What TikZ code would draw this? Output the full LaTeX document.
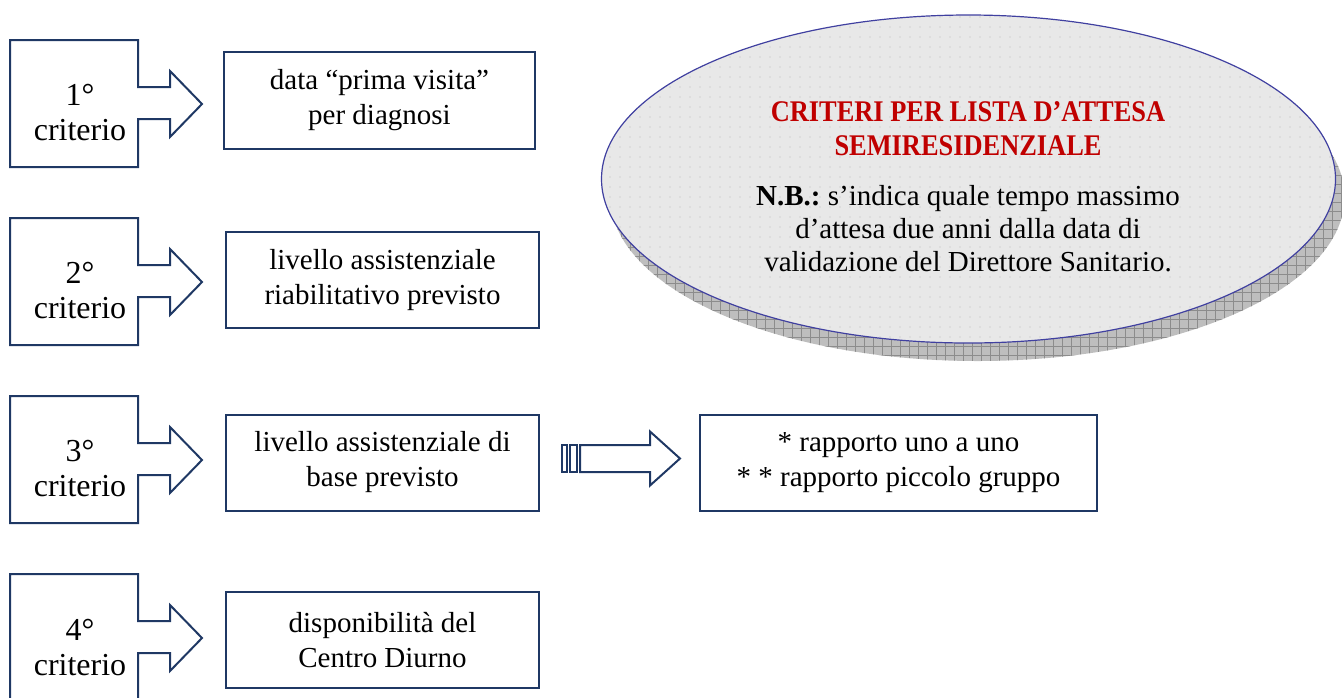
\documentclass[tikz,border=0pt]{standalone}
\usepackage{fontspec}
\setmainfont{Liberation Serif}
\newfontfamily\titlefont[FakeStretch=0.88]{Liberation Serif}
\usepackage{tikz}
\usetikzlibrary{positioning,calc,shapes.geometric,patterns}
\definecolor{navyline}{RGB}{31,56,100}
\definecolor{ellipseedge}{RGB}{64,64,160}
\definecolor{titlered}{RGB}{192,0,0}
\definecolor{bubblegray}{RGB}{232,232,232}
\definecolor{dotgray}{RGB}{185,185,185}
\definecolor{shadowgray}{RGB}{190,190,190}
\definecolor{gridgray}{RGB}{140,140,140}
\frenchspacing

\pgfdeclarepatternformonly{bubbledots}{\pgfqpoint{-0.5pt}{-0.5pt}}{\pgfqpoint{0.5pt}{0.5pt}}{\pgfqpoint{5pt}{5pt}}{\pgfpathcircle{\pgfqpoint{0pt}{0pt}}{0.3pt}\pgfusepath{fill}}
\pgfdeclarepatternformonly{shadowgrid}{\pgfqpoint{-1pt}{-1pt}}{\pgfqpoint{5pt}{5pt}}{\pgfqpoint{4.5pt}{4.5pt}}{\pgfsetlinewidth{0.4pt}\pgfpathmoveto{\pgfqpoint{0pt}{0pt}}\pgfpathlineto{\pgfqpoint{0pt}{4.6pt}}\pgfpathmoveto{\pgfqpoint{0pt}{0pt}}\pgfpathlineto{\pgfqpoint{4.6pt}{0pt}}\pgfusepath{stroke}}

\begin{document}
\begin{tikzpicture}[x=0.5pt,y=-0.5pt,
	critline/.style={draw=navyline,line width=1pt,line join=miter},
	crittext/.style={align=center,font=\fontsize{16}{17.5}\selectfont},
	infobox/.style={draw=navyline,line width=1pt,align=center,inner sep=0pt,font=\fontsize{14.5}{17.5}\selectfont},
	bubble/.style={ellipse,minimum width=367pt,minimum height=164pt,inner sep=0pt}]
		
		\clip (0,0) rectangle (1342,697);
		
		\foreach \n/\top in {1/40,2/218,3/396,4/574}{
			\draw[critline] (10,\top) -- (138,\top) -- (138,\top+47) -- (170,\top+47) -- (170,\top+31) -- (202,\top+64) -- (170,\top+97) -- (170,\top+79) -- (138,\top+79) -- (138,\top+127) -- (10,\top+127) -- cycle;
			\node[crittext] (crit\n) at (80,\top+73) {\n°\\criterio};
		}
		
		\node[infobox,minimum width=155.5pt,minimum height=48.5pt] (visita) at (379.5,100.5) {data “prima visita”\\per diagnosi};
		
		\node[infobox,minimum width=156.5pt,minimum height=48pt] (riab) at (382.5,280) {livello assistenziale\\riabilitativo previsto};
		
		\node[infobox,minimum width=156.5pt,minimum height=48pt] (base) at (382.5,462.5) {livello assistenziale di\\base previsto};
		
		\node[infobox,minimum width=156.5pt,minimum height=48pt] (diurno) at (382.5,640) {disponibilità del\\Centro Diurno};
		
		\node[infobox,minimum width=198.5pt,minimum height=48pt,right=79.5pt of base] (rapporto) {* rapporto uno a uno\\* * rapporto piccolo gruppo};
		
		\coordinate (tail) at ($(base.east)+(22,-4)$);
		
		\draw[critline] ($(tail)+(0,-13.5)$) rectangle ($(tail)+(5,13.5)$);
		\draw[critline] ($(tail)+(8,-13.5)$) rectangle ($(tail)+(15,13.5)$);
		\draw[critline] ($(tail)+(18,-13.5)$) -- ($(tail)+(88,-13.5)$) -- ($(tail)+(88,-27)$) -- ($(tail)+(118,0)$) -- ($(tail)+(88,27)$) -- ($(tail)+(88,13.5)$) -- ($(tail)+(18,13.5)$) -- cycle;
		
		\coordinate (notec) at (968.5,179);
		
		\node[bubble,preaction={fill=shadowgray},pattern=shadowgrid,pattern color=gridgray] (noteshadow) at ($(notec)+(9,18)$) {};
		
		\node[bubble,draw=ellipseedge,line width=0.6pt,preaction={fill=bubblegray},pattern=bubbledots,pattern color=dotgray] (note) at (notec) {};
		
		\node[font=\titlefont\bfseries\fontsize{15}{17}\selectfont,text=titlered,align=center] (notetitle) at (968,129) {CRITERI PER LISTA D’ATTESA\\SEMIRESIDENZIALE};
		
		\node[font=\fontsize{14.5}{16.5}\selectfont,align=center] (notebody) at (968,229) {\textbf{N.B.:} s’indica quale tempo massimo\\d’attesa due anni dalla data di\\validazione del Direttore Sanitario.};
		
		\end{tikzpicture}
\end{document}
